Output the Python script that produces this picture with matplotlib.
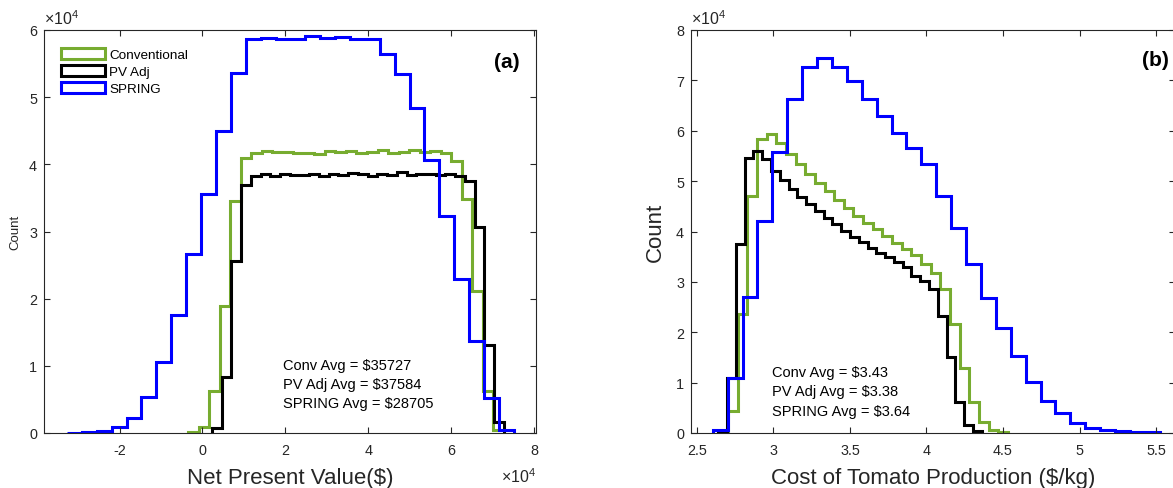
import numpy as np
import matplotlib
matplotlib.use('Agg')
import matplotlib.pyplot as plt
from matplotlib.patches import Patch
from matplotlib.ticker import MultipleLocator, FuncFormatter

plt.rcParams['font.family'] = ['Liberation Sans', 'DejaVu Sans']
plt.rcParams['axes.unicode_minus'] = False
plt.rcParams['mathtext.fontset'] = 'custom'
plt.rcParams['mathtext.rm'] = 'Liberation Sans'

# ---------------- data ----------------
series_names = ['Conventional', 'PV Adj', 'SPRING']
series_colors = ['#77AC30', '#000000', '#0000FF']

# Panel (a): Net Present Value histograms (30 bins each)
npv_conv_range = (-3490, 72650)
npv_conv_counts = [100, 850, 6200, 18900, 34600, 40900, 41700, 42000, 41900, 41800,
                   41700, 41700, 41600, 42000, 41800, 42000, 41700, 41900, 42100, 41700,
                   41900, 42200, 41800, 42000, 41700, 40500, 34800, 21100, 6300, 500]
npv_pv_range = (2290, 72650)
npv_pv_counts = [700, 8300, 25600, 36900, 38300, 38500, 38200, 38600, 38400, 38400,
                 38600, 38300, 38500, 38400, 38700, 38500, 38300, 38600, 38400, 38800,
                 38400, 38500, 38600, 38400, 38500, 38300, 37500, 30600, 13100, 1600]
npv_spring_range = (-32650, 75060)
npv_spring_counts = [30, 100, 300, 850, 2300, 5300, 10500, 17600, 26700, 35600,
                     45000, 53600, 58600, 58800, 58700, 58700, 59100, 58800, 58900, 58700,
                     58700, 56400, 53400, 48400, 40700, 32300, 22900, 13700, 5200, 450]
npv_avg_labels = ['Conv Avg = \\$35727', 'PV Adj Avg = \\$37584', 'SPRING Avg = \\$28705']

# Panel (b): Cost of tomato production histograms (30 bins each)
cost_conv_range = (2.639, 4.533)
cost_conv_counts = [100, 4400, 23600, 47100, 58300, 59300, 57500, 55400, 53400, 51400,
                    49700, 48000, 46300, 44700, 43100, 41700, 40400, 39100, 37800, 36500,
                    35300, 33600, 31700, 28600, 21600, 13000, 6100, 2100, 500, 100]
cost_pv_range = (2.639, 4.361)
cost_pv_counts = [200, 11000, 37600, 54500, 56000, 54400, 52000, 50300, 48400, 46800,
                  45400, 44100, 42700, 41400, 40100, 39000, 38000, 36800, 35800, 34900,
                  33900, 32900, 31200, 30200, 28600, 23300, 15000, 6100, 1500, 300]
cost_spring_range = (2.603, 5.524)
cost_spring_counts = [600, 11000, 27000, 42000, 55800, 66300, 72700, 74500, 72700, 69800,
                      66300, 63000, 59500, 56500, 53400, 47100, 40600, 33500, 26800, 20800,
                      15200, 10100, 6300, 4000, 2000, 1000, 500, 300, 200, 100]
cost_avg_labels = ['Conv Avg = \\$3.43', 'PV Adj Avg = \\$3.38', 'SPRING Avg = \\$3.64']

exp_label = '$\\times\\mathdefault{10^{4}}$'

# ---------------- figure ----------------
W, H = 1173, 489
fig = plt.figure(figsize=(W / 100, H / 100), dpi=100)
axA = fig.add_axes([44 / W, 55 / H, 492 / W, 403 / H])
axB = fig.add_axes([691 / W, 55 / H, 484 / W, 403 / H])

gray = '#262626'
lw = 2.2
sci = FuncFormatter(lambda v, p: '%g' % (v / 1e4))


def draw_hist(ax, rng, counts, color, label):
    edges = np.linspace(rng[0], rng[1], len(counts) + 1)
    ax.stairs(counts, edges, color=color, linewidth=lw, label=label, baseline=0)


def style(ax):
    for s in ax.spines.values():
        s.set_color(gray)
        s.set_linewidth(0.8)
    ax.tick_params(direction='in', top=True, right=True, length=4, width=0.8,
                   color=gray, labelcolor=gray, labelsize=10.4)
    ax.tick_params(axis='x', pad=7)
    ax.tick_params(axis='y', pad=5)


# Panel (a)
for rng, cnt, c, n in zip([npv_conv_range, npv_pv_range, npv_spring_range],
                          [npv_conv_counts, npv_pv_counts, npv_spring_counts],
                          series_colors, series_names):
    draw_hist(axA, rng, cnt, c, n)
axA.set_xlim(-38200, 80400)
axA.set_ylim(0, 60000)
axA.xaxis.set_major_locator(MultipleLocator(20000))
axA.yaxis.set_major_locator(MultipleLocator(10000))
axA.xaxis.set_major_formatter(sci)
axA.yaxis.set_major_formatter(sci)
style(axA)
axA.set_xlabel('Net Present Value(\\$)', fontsize=16, color=gray)
axA.set_ylabel('Count', fontsize=9.5, color=gray)
axA.yaxis.set_label_coords(-0.045, 0.5)
axA.xaxis.set_label_coords(0.5, -0.085)
axA.text(0.0, 1.008, exp_label, transform=axA.transAxes, fontsize=11.5,
         color=gray, ha='left', va='bottom')
axA.text(1.0, -0.083, exp_label, transform=axA.transAxes, fontsize=11.5,
         color=gray, ha='right', va='top')
axA.text(0.94, 0.922, '(a)', transform=axA.transAxes, fontsize=15,
         fontweight='bold', ha='center', va='center')
for i, t in enumerate(npv_avg_labels):
    axA.text(0.486, 0.1687 - i * 0.0472, t, transform=axA.transAxes,
             fontsize=10.5, ha='left', va='center')
handles = [Patch(facecolor='white', edgecolor=c, linewidth=lw) for c in series_colors]
axA.legend(handles, series_names, loc='upper left', bbox_to_anchor=(0.034, 0.955),
           frameon=False, fontsize=9.7, handlelength=3.3, handleheight=0.85,
           handletextpad=0.3, labelspacing=0.3, borderpad=0, borderaxespad=0)

# Panel (b)
for rng, cnt, c, n in zip([cost_conv_range, cost_pv_range, cost_spring_range],
                          [cost_conv_counts, cost_pv_counts, cost_spring_counts],
                          series_colors, series_names):
    draw_hist(axB, rng, cnt, c, n)
axB.set_xlim(2.461, 5.624)
axB.set_ylim(0, 80000)
axB.xaxis.set_major_locator(MultipleLocator(0.5))
axB.xaxis.set_major_formatter(FuncFormatter(lambda v, p: '%g' % v))
axB.yaxis.set_major_locator(MultipleLocator(10000))
axB.yaxis.set_major_formatter(sci)
style(axB)
axB.set_xlabel('Cost of Tomato Production (\\$/kg)', fontsize=16, color=gray)
axB.set_ylabel('Count', fontsize=16, color=gray)
axB.yaxis.set_label_coords(-0.052, 0.5)
axB.xaxis.set_label_coords((933 - 691) / 484, -0.085)
axB.text(0.0, 1.008, exp_label, transform=axB.transAxes, fontsize=11.5,
         color=gray, ha='left', va='bottom')
axB.text(0.959, 0.928, '(b)', transform=axB.transAxes, fontsize=15,
         fontweight='bold', ha='center', va='center')
for i, t in enumerate(cost_avg_labels):
    axB.text(0.1667, 0.1506 - i * 0.0476, t, transform=axB.transAxes,
             fontsize=10.5, ha='left', va='center')

fig.savefig('out.png', dpi=100)
